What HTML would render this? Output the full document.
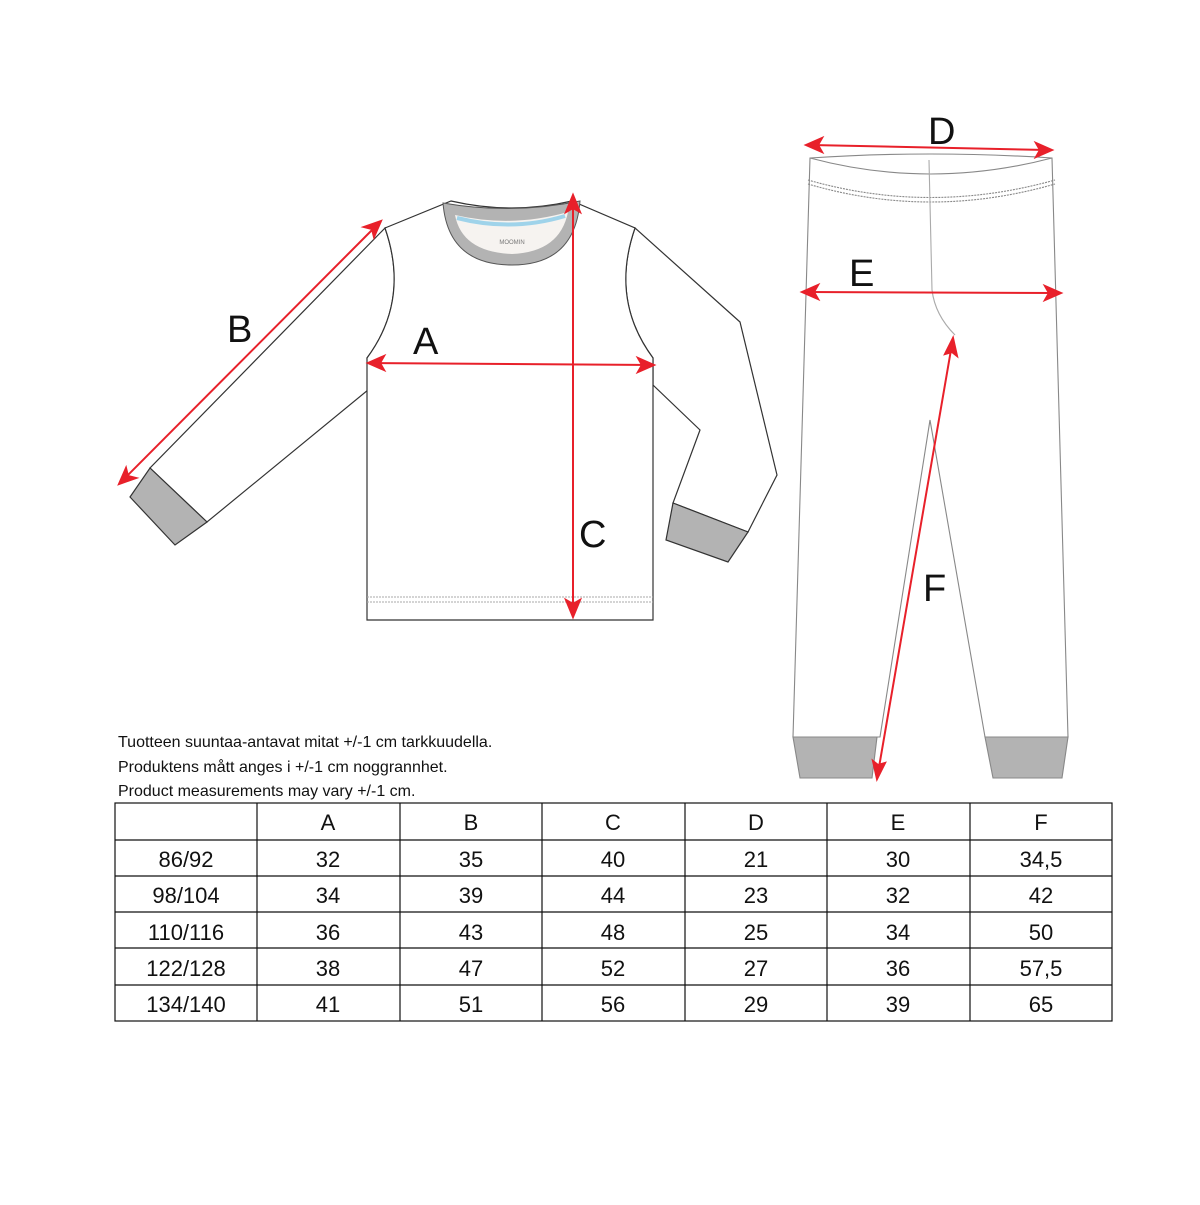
<!DOCTYPE html>
<html><head><meta charset="utf-8"><style>
body{margin:0;background:#fff;width:1200px;height:1200px;overflow:hidden;font-family:"Liberation Sans",sans-serif}
</style></head><body>
<svg width="1200" height="1200" viewBox="0 0 1200 1200" xmlns="http://www.w3.org/2000/svg">
<g fill="#fff" stroke="#333" stroke-width="1.2">
<path d="M385,228 L150,468 L207,522 L368,390 L367,358 Q410,300 385,228 Z"/>
<path d="M635,228 L740,322 L777,475 L748,532 L673,503 L700,430 L653,385 L653,358 Q610,300 635,228 Z"/>
<path d="M385,228 L451,201 Q512,215 572,201 L635,228 Q610,300 653,358 L653,620 L367,620 L367,358 Q410,300 385,228 Z"/>
<path d="M130,497 L150,468 L207,522 L175,545 Z" fill="#b3b3b3"/>
<path d="M673,503 L748,532 L728,562 L666,540 Z" fill="#b3b3b3"/>
</g>
<path d="M443,203 Q512,215 580,201 Q575,265 512,265 Q448,265 443,203 Z" fill="#b3b3b3" stroke="#555" stroke-width="1"/>
<path d="M455,215 Q512,228 568,212 Q560,252 512,254 Q462,252 455,215 Z" fill="#f6f3f0"/>
<path d="M457,218 Q512,232 565,216" stroke="#9fd3ea" stroke-width="4" fill="none"/>
<text x="512" y="244" font-size="6" text-anchor="middle" fill="#777">MOOMIN</text>
<line x1="367" y1="597" x2="653" y2="597" stroke="#aaa" stroke-dasharray="2,1"/>
<line x1="367" y1="602" x2="653" y2="602" stroke="#aaa" stroke-dasharray="2,1"/>
<g fill="#fff" stroke="#888" stroke-width="1.1">
<path d="M810,158 Q930,150 1052,158 L1068,737 L985,737 L930,420 L880,737 L793,737 Z"/>
<path d="M793,737 L877,737 L872,778 L800,778 Z" fill="#b3b3b3"/>
<path d="M985,737 L1068,737 L1062,778 L993,778 Z" fill="#b3b3b3"/>
<path d="M810,158 Q930,190 1052,158" fill="none"/>
<path d="M808,180 Q930,215 1055,180" fill="none" stroke-dasharray="2,1"/>
<path d="M808,184 Q930,220 1055,184" fill="none" stroke-dasharray="2,1"/>
<path d="M929,160 L932,290 Q935,315 955,335" fill="none" stroke="#aaa"/>
</g>
<g stroke="#e8202a" stroke-width="2" fill="#e8202a">
<line x1="372" y1="363" x2="650" y2="365"/>
<polygon points="368,363 384,356 380,363 384,370"/><polygon points="654,365 638,358 642,365 638,372"/>
<line x1="123" y1="480" x2="377" y2="225"/>
<polygon points="119,484 126,468 128,476 136,478"/><polygon points="381,221 374,237 372,229 364,227"/>
<line x1="573" y1="200" x2="573" y2="612"/>
<polygon points="573,195 566,212 573,208 580,212"/><polygon points="573,617 566,600 573,604 580,600"/>
<line x1="811" y1="145" x2="1047" y2="150"/>
<polygon points="806,145 822,138 818,145 822,152"/><polygon points="1052,150 1036,143 1040,150 1036,157"/>
<line x1="806" y1="292" x2="1057" y2="293"/>
<polygon points="802,292 818,285 814,292 818,299"/><polygon points="1061,293 1045,286 1049,293 1045,300"/>
<line x1="952" y1="344" x2="878" y2="773"/>
<polygon points="953,338 957,356 952,352 945,354"/><polygon points="877,779 873,761 878,765 885,763"/>
</g>
<g font-size="38" fill="#111">
<text x="227" y="342">B</text><text x="413" y="354">A</text><text x="579" y="547">C</text>
<text x="928" y="144">D</text><text x="849" y="286">E</text><text x="923" y="601">F</text>
</g>
<g font-size="16" fill="#111">
<text x="118" y="747">Tuotteen suuntaa-antavat mitat +/-1 cm tarkkuudella.</text>
<text x="118" y="772">Produktens mått anges i +/-1 cm noggrannhet.</text>
<text x="118" y="796">Product measurements may vary +/-1 cm.</text>
</g>
<g stroke="#111" stroke-width="1.2" fill="none">
<rect x="115" y="803" width="997" height="218"/>
<line x1="115" y1="840" x2="1112" y2="840"/><line x1="115" y1="876" x2="1112" y2="876"/>
<line x1="115" y1="912" x2="1112" y2="912"/><line x1="115" y1="948" x2="1112" y2="948"/>
<line x1="115" y1="985" x2="1112" y2="985"/>
<line x1="257" y1="803" x2="257" y2="1021"/><line x1="400" y1="803" x2="400" y2="1021"/>
<line x1="542" y1="803" x2="542" y2="1021"/><line x1="685" y1="803" x2="685" y2="1021"/>
<line x1="827" y1="803" x2="827" y2="1021"/><line x1="970" y1="803" x2="970" y2="1021"/>
</g>
<g font-size="22" fill="#111" text-anchor="middle">
<text x="328" y="830">A</text><text x="471" y="830">B</text><text x="613" y="830">C</text><text x="756" y="830">D</text><text x="898" y="830">E</text><text x="1041" y="830">F</text>
<text x="186" y="867">86/92</text><text x="328" y="867">32</text><text x="471" y="867">35</text><text x="613" y="867">40</text><text x="756" y="867">21</text><text x="898" y="867">30</text><text x="1041" y="867">34,5</text>
<text x="186" y="903">98/104</text><text x="328" y="903">34</text><text x="471" y="903">39</text><text x="613" y="903">44</text><text x="756" y="903">23</text><text x="898" y="903">32</text><text x="1041" y="903">42</text>
<text x="186" y="940">110/116</text><text x="328" y="940">36</text><text x="471" y="940">43</text><text x="613" y="940">48</text><text x="756" y="940">25</text><text x="898" y="940">34</text><text x="1041" y="940">50</text>
<text x="186" y="976">122/128</text><text x="328" y="976">38</text><text x="471" y="976">47</text><text x="613" y="976">52</text><text x="756" y="976">27</text><text x="898" y="976">36</text><text x="1041" y="976">57,5</text>
<text x="186" y="1012">134/140</text><text x="328" y="1012">41</text><text x="471" y="1012">51</text><text x="613" y="1012">56</text><text x="756" y="1012">29</text><text x="898" y="1012">39</text><text x="1041" y="1012">65</text>
</g>
</svg>
</body></html>
